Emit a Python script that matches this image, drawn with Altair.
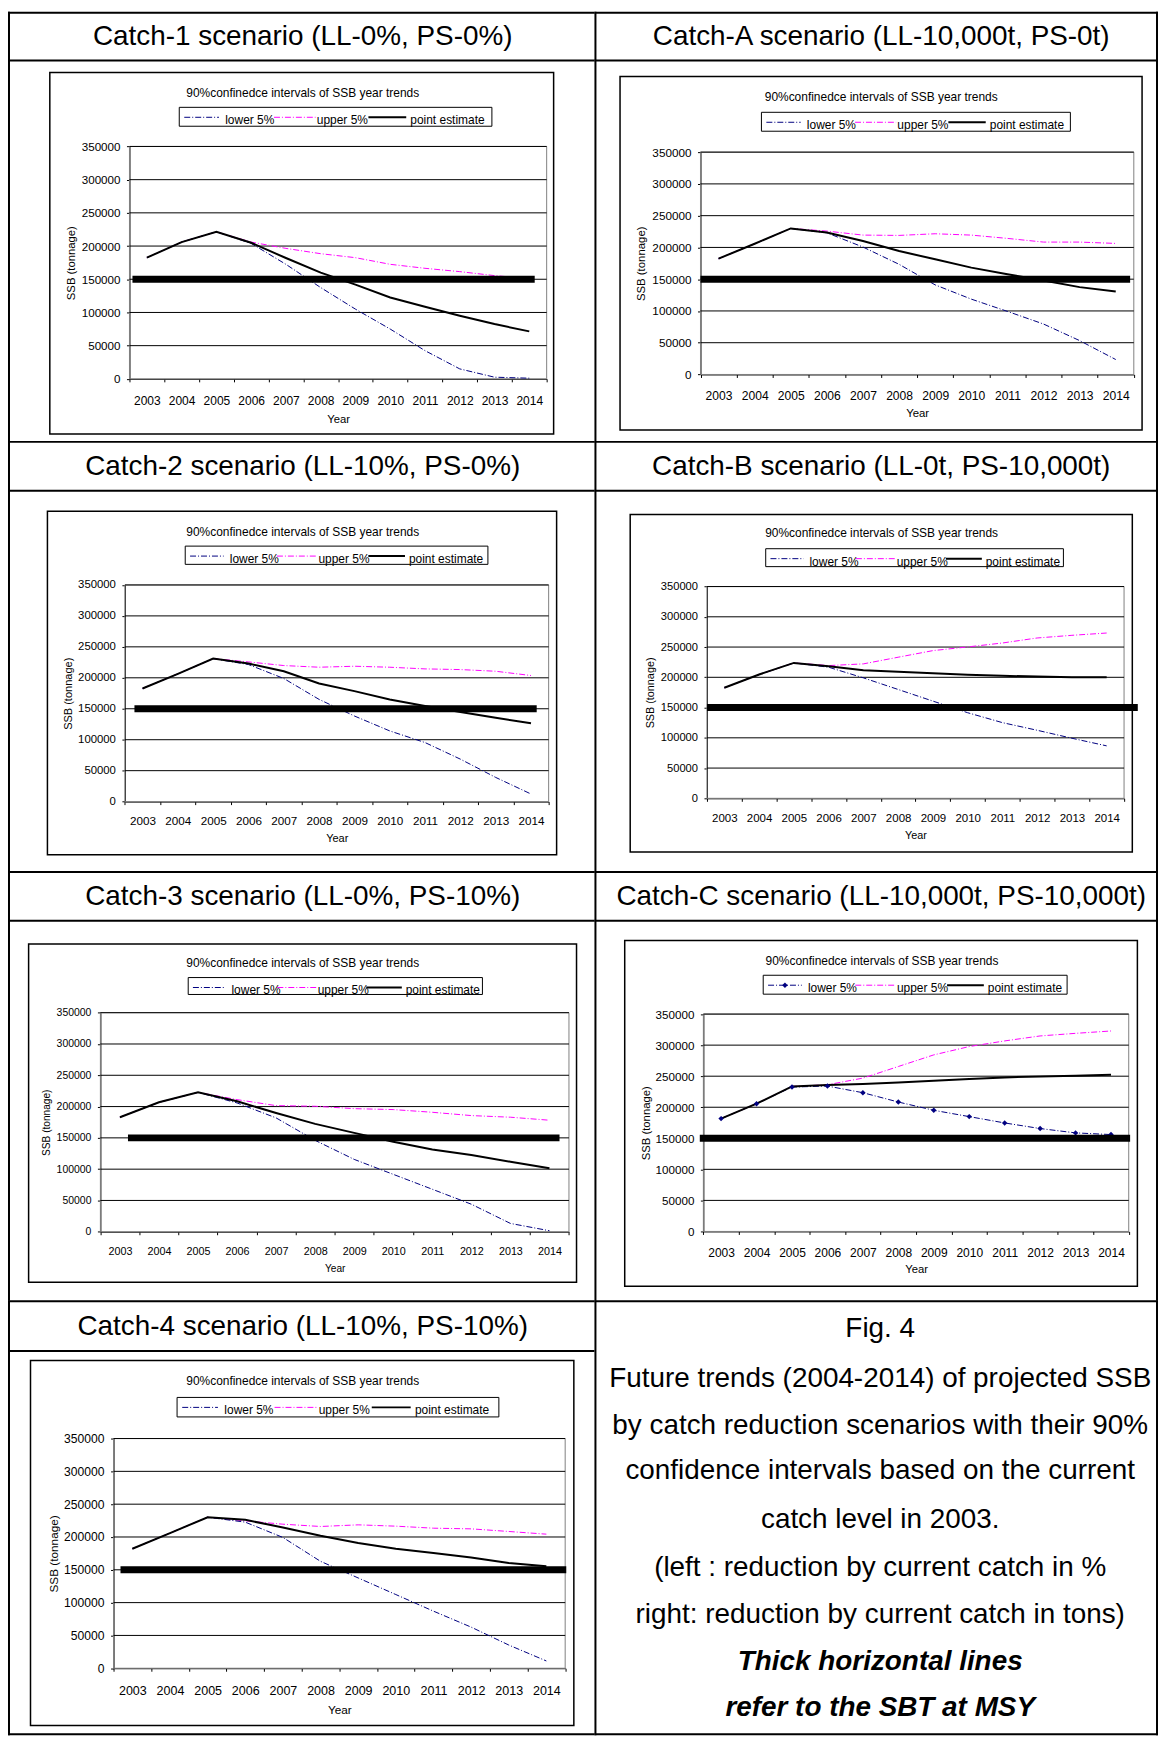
import altair as alt
import pandas as pd

# ---------------- data ----------------
YEARS = list(range(2003, 2015))
Y_TICKS = [0, 50000, 100000, 150000, 200000, 250000, 300000, 350000]
MSY_SSB = 150000
SERIES = ["lower 5%", "upper 5%", "point estimate"]
CHART_TITLE = "90%confinedce intervals of SSB year trends"

C1_TITLE = "Catch-1 scenario (LL-0%, PS-0%)"
C1_POINT = [182500, 206000, 221500, 205000, 182000, 160000, 142000, 122500, 108500, 95000, 82500, 71500]
C1_UPPER = [182500, 206000, 221500, 206000, 196500, 188500, 182500, 172500, 166500, 161500, 155500, 151000]
C1_LOWER = [182500, 206000, 221500, 204000, 172500, 137500, 105000, 75000, 42500, 15000, 2500, 1000]

CA_TITLE = "Catch-A scenario (LL-10,000t, PS-0t)"
CA_POINT = [182300, 205800, 229900, 223600, 210000, 194300, 181300, 168200, 157800, 148000, 137500, 130600]
CA_UPPER = [182300, 205800, 229900, 225700, 219400, 218900, 221500, 219400, 214200, 208400, 208400, 206300]
CA_LOWER = [182300, 205800, 229900, 223000, 200600, 173400, 141000, 118600, 99300, 79400, 53300, 23500]

C2_TITLE = "Catch-2 scenario (LL-10%, PS-0%)"
C2_POINT = [182800, 206400, 231000, 223000, 210600, 190800, 178500, 165100, 154400, 144700, 135600, 126500]
C2_UPPER = [182800, 206400, 231000, 225700, 219800, 217100, 218700, 217100, 214400, 213300, 210600, 203700]
C2_LOWER = [182800, 206400, 231000, 221400, 198900, 165100, 138300, 114200, 95400, 68600, 39100, 12300]

CB_TITLE = "Catch-B scenario (LL-0t, PS-10,000t)"
CB_POINT = [182700, 204600, 223800, 218300, 211800, 209000, 206800, 204100, 202400, 201300, 200200, 200200]
CB_UPPER = [182700, 204600, 223800, 219400, 222200, 233200, 244100, 250200, 256700, 265000, 269400, 273200]
CB_LOWER = [182700, 204600, 223800, 216700, 199100, 179900, 160700, 141500, 125100, 112500, 99300, 86700]

C3_TITLE = "Catch-3 scenario (LL-0%, PS-10%)"
C3_POINT = [183000, 206800, 222700, 208400, 189800, 172300, 158000, 143700, 131500, 122500, 111900, 101300]
C3_UPPER = [183000, 206800, 222700, 211100, 201500, 200500, 196700, 195200, 190900, 185600, 183000, 178200]
C3_LOWER = [183000, 206800, 222700, 205800, 181900, 146000, 115600, 91700, 67900, 44000, 13300, 1600]

CC_TITLE = "Catch-C scenario (LL-10,000t, PS-10,000t)"
CC_POINT = [181700, 205700, 233500, 235700, 237300, 240000, 242600, 245300, 248000, 249600, 250600, 252200]
CC_UPPER = [181700, 205700, 233500, 236200, 246900, 265600, 284300, 297700, 306800, 314800, 319000, 322800]
CC_LOWER = [181700, 205700, 232500, 234100, 223400, 208400, 195100, 184900, 174700, 165700, 158700, 156000]

C4_TITLE = "Catch-4 scenario (LL-10%, PS-10%)"
C4_POINT = [182100, 205900, 230100, 226100, 214500, 201800, 190700, 182100, 175500, 168900, 160300, 155300]
C4_UPPER = [182100, 205900, 230100, 224600, 219500, 216000, 218500, 216500, 213400, 212400, 208400, 204300]
C4_LOWER = [182100, 205900, 230100, 222600, 199300, 162900, 137600, 112300, 87000, 62700, 35400, 11100]

FIG_LINES = [
    "Fig. 4",
    "Future trends (2004-2014) of projected SSB",
    "by catch reduction scenarios with their 90%",
    "confidence intervals based on the current",
    "catch level in 2003.",
    "(left : reduction by current catch in %",
    "right: reduction by current catch in tons)",
    "Thick horizontal lines",
    "refer to the SBT at MSY",
]
FIG_BOLD = [False, False, False, False, False, False, False, True, True]

# ---------------- layout / style (cell-local pixels) ----------------
G1 = dict(cw=589, ch=431, hl=49, hx=296, hy=25, box=(42, 61, 548, 424), tx=296, ty=82,
          leg=(172, 96, 486, 115), plot=(122, 135.3, 541, 368.7), thick=(125, 529),
          ytx=-58.5, xty=40.6, xl=21.6, fs=11.7)
GA = dict(cw=566, ch=431, hl=49, hx=288, hy=25, box=(25.7, 65, 550, 420), tx=288, ty=86,
          leg=(167.7, 101, 478, 120), plot=(106.5, 141, 541.7, 364.3), thick=(106.5, 538),
          ytx=-59, xty=39.4, xl=20.4, fs=11.8, right=True)
G2 = dict(cw=589, ch=432, hl=50, hx=296, hy=26.3, box=(39.6, 70.7, 551, 415.7), tx=296, ty=91.3,
          leg=(178, 105.7, 482, 124), plot=(117.4, 144.7, 543, 362.3), thick=(127, 531),
          ytx=-57, xty=37.4, xl=19.7, fs=11.4)
GB = dict(cw=566, ch=432, hl=50, hx=288, hy=26.3, box=(35.9, 74, 540.2, 413), tx=288.4, ty=93,
          leg=(172, 108.3, 471, 126.3), plot=(113, 146.3, 531.9, 359), thick=(113, 545.7),
          ytx=-56.4, xty=37.3, xl=19.7, fs=11.2, right=True)
G3 = dict(cw=589, ch=431, hl=50, hx=296, hy=26.3, box=(20.7, 73.3, 571, 413), tx=296, ty=92,
          leg=(181, 107, 476.5, 124), plot=(92.8, 142.3, 563.4, 362.3), thick=(120.5, 553.9),
          ytx=-54, xty=36.7, xl=19.7, fs=10.5)
GC = dict(cw=566, ch=431, hl=50, hx=288, hy=26.3, box=(30.4, 69.7, 545.3, 417), tx=288.8, ty=90,
          leg=(169.5, 104.7, 474.7, 123.7), plot=(109.4, 143.7, 536.6, 362), thick=(105.8, 538),
          ytx=-57, xty=38.7, xl=21, fs=11.7, right=True)
G4 = dict(cw=589, ch=437, hl=51, hx=296, hy=27.3, box=(22.6, 60.7, 568.3, 427.3), tx=296, ty=81.7,
          leg=(169.8, 97.7, 493, 117.3), plot=(106, 139, 559.6, 369.7), thick=(113, 560.7),
          ytx=-60.7, xty=41, xl=21.5, fs=12.2, bottom=True)
GF = dict(cw=566, ch=437, cx=287, ly=[28.7, 79.2, 126.5, 172, 220.5, 269, 316.5, 363.5, 409.5],
          right=True, bottom=True)

FONT = "Liberation Sans"
NAVY = "#000080"
MAGENTA = "#FF00FF"
DASH = [6, 2, 1, 2]
ONE = pd.DataFrame({"k": [0]})


def rect(x0, y0, x1, y1, **kw):
    return alt.Chart(ONE).mark_rect(**kw).encode(
        x=alt.value(x0), x2=alt.value(x1), y=alt.value(y0), y2=alt.value(y1))


def seg(x0, x1, y, **kw):
    return alt.Chart(ONE).mark_rule(**kw).encode(
        x=alt.value(x0), x2=alt.value(x1), y=alt.value(y))


def txt(x, y, s, **kw):
    return alt.Chart(ONE).mark_text(**kw).encode(
        x=alt.value(x), y=alt.value(y), text=alt.value(s))


def table_lines(g):
    cw, ch = g["cw"], g["ch"]
    L = [rect(0, 0, cw, 2, color="black"), rect(0, 0, 2, ch, color="black")]
    if g.get("right"):
        L.append(rect(cw - 2, 0, cw, ch, color="black"))
    if g.get("bottom"):
        L.append(rect(0, ch - 2, cw, ch, color="black"))
    if g.get("hl"):
        L.append(rect(0, g["hl"] - 1, cw, g["hl"] + 1, color="black"))
    return L


def panel(title, point, upper, lower, g, diamonds=False):
    cw, ch = g["cw"], g["ch"]
    px0, py0, px1, py1 = g["plot"]
    fs = g["fs"]
    layers = table_lines(g)
    layers.append(txt(g["hx"], g["hy"], title, font=FONT, fontSize=28,
                      align="center", baseline="middle", color="black"))
    bx0, by0, bx1, by1 = g["box"]
    layers.append(rect(bx0, by0, bx1, by1, fillOpacity=0, stroke="black", strokeWidth=1.5))
    layers.append(txt(g["tx"], g["ty"], CHART_TITLE, font=FONT, fontSize=12,
                      align="center", baseline="middle", color="black"))
    # legend
    lx0, ly0, lx1, ly1 = g["leg"]
    lw = lx1 - lx0
    layers.append(rect(lx0, ly0, lx1, ly1, fillOpacity=0, stroke="black", strokeWidth=1))
    sym = [(0.016, 0.127, 0.147, dict(color=NAVY, strokeWidth=1, strokeDash=DASH)),
           (0.303, 0.436, 0.44, dict(color=MAGENTA, strokeWidth=1, strokeDash=DASH)),
           (0.605, 0.726, 0.739, dict(color="black", strokeWidth=2))]
    for name, (a, b, t, st) in zip(SERIES, sym):
        layers.append(seg(lx0 + a * lw, lx0 + b * lw, ly0 + 10, **st))
        layers.append(txt(lx0 + t * lw, ly0 + 17, name, font=FONT, fontSize=12,
                          align="left", baseline="alphabetic", color="black"))
    if diamonds:
        layers.append(alt.Chart(ONE).mark_point(shape="diamond", filled=True, color=NAVY,
                                                size=30, opacity=1).encode(
            x=alt.value(lx0 + 0.0715 * lw), y=alt.value(ly0 + 10)))
    # plot frame (grey, Excel style)
    layers.append(rect(px0, py0, px1, py1, fillOpacity=0, stroke="#808080", strokeWidth=1))

    xs = alt.Scale(type="band", domain=YEARS, range=[px0, px1], paddingInner=0, paddingOuter=0)
    ys = alt.Scale(domain=[0, 350000], range=[py1, py0], nice=False, zero=True)
    xaxis = alt.Axis(title="Year", labelAngle=0, tickBand="extent", grid=False,
                     offset=py1 - ch,
                     domainColor="black", domainWidth=1, tickColor="black", tickSize=3,
                     labelFont=FONT, labelFontSize=fs * 1.03, labelColor="black",
                     labelPadding=g["xl"] - 8.5, labelOverlap=False,
                     titleFont=FONT, titleFontSize=fs * 0.97, titleFontWeight="normal",
                     titleColor="black", titleY=g["xty"], titleX=(px0 + px1) / 2,
                     titleBaseline="middle", titleAlign="center")
    yaxis = alt.Axis(title="SSB (tonnage)", values=Y_TICKS, grid=False, offset=-px0,
                     domainColor="black", domainWidth=1,
                     tickColor="black", tickSize=3, labelFont=FONT, labelFontSize=fs,
                     labelColor="black", labelPadding=6.5, labelOverlap=False, format="d",
                     titleFont=FONT, titleFontSize=fs * 0.97, titleFontWeight="normal",
                     titleColor="black", titleX=g["ytx"], titleY=(py0 + py1) / 2,
                     titleAngle=270, titleBaseline="middle", titleAlign="center")

    # horizontal gridlines through the y scale
    grid_df = pd.DataFrame({"ssb": Y_TICKS[1:]})
    layers.append(alt.Chart(grid_df).mark_rule(color="black", strokeWidth=1).encode(
        y=alt.Y("ssb:Q", scale=ys, axis=yaxis), x=alt.value(px0), x2=alt.value(px1)))

    df = pd.DataFrame({
        "year": YEARS * 3,
        "ssb": lower + upper + point,
        "series": [SERIES[0]] * 12 + [SERIES[1]] * 12 + [SERIES[2]] * 12,
    })
    base = alt.Chart(df).encode(
        x=alt.X("year:O", bandPosition=0.5, scale=xs, axis=xaxis),
        y=alt.Y("ssb:Q", scale=ys, axis=yaxis),
    )
    layers.append(base.transform_filter(alt.datum.series == SERIES[1]).mark_line(
        color=MAGENTA, strokeWidth=1, strokeDash=DASH))
    layers.append(base.transform_filter(alt.datum.series == SERIES[0]).mark_line(
        color=NAVY, strokeWidth=1, strokeDash=DASH))
    layers.append(base.transform_filter(alt.datum.series == SERIES[2]).mark_line(
        color="black", strokeWidth=2))
    if diamonds:
        layers.append(base.transform_filter(alt.datum.series == SERIES[0]).mark_point(
            shape="diamond", filled=True, color=NAVY, size=30, opacity=1))
    layers.append(alt.Chart(pd.DataFrame({"ssb": [MSY_SSB]})).mark_rule(
        color="black", strokeWidth=7).encode(
        y=alt.Y("ssb:Q", scale=ys, axis=yaxis),
        x=alt.value(g["thick"][0]), x2=alt.value(g["thick"][1])))
    return alt.layer(*layers).properties(width=cw, height=ch)


def fig_cell(g):
    layers = table_lines(g)
    for s, y, bold in zip(FIG_LINES, g["ly"], FIG_BOLD):
        kw = dict(font=FONT, fontSize=28, align="center", baseline="middle", color="black")
        if bold:
            kw.update(fontWeight="bold", fontStyle="italic")
        layers.append(txt(g["cx"], y, s, **kw))
    return alt.layer(*layers).properties(width=g["cw"], height=g["ch"])


cells = [
    panel(C1_TITLE, C1_POINT, C1_UPPER, C1_LOWER, G1),
    panel(CA_TITLE, CA_POINT, CA_UPPER, CA_LOWER, GA),
    panel(C2_TITLE, C2_POINT, C2_UPPER, C2_LOWER, G2),
    panel(CB_TITLE, CB_POINT, CB_UPPER, CB_LOWER, GB),
    panel(C3_TITLE, C3_POINT, C3_UPPER, C3_LOWER, G3),
    panel(CC_TITLE, CC_POINT, CC_UPPER, CC_LOWER, GC, diamonds=True),
    panel(C4_TITLE, C4_POINT, C4_UPPER, C4_LOWER, G4),
    fig_cell(GF),
]

chart = alt.concat(*cells, columns=2, spacing=0, align="each", bounds="flush",
                   padding=0).configure(background="white").configure_view(strokeWidth=0)

chart.save("out.html", embed_options={"renderer": "svg", "actions": False})
